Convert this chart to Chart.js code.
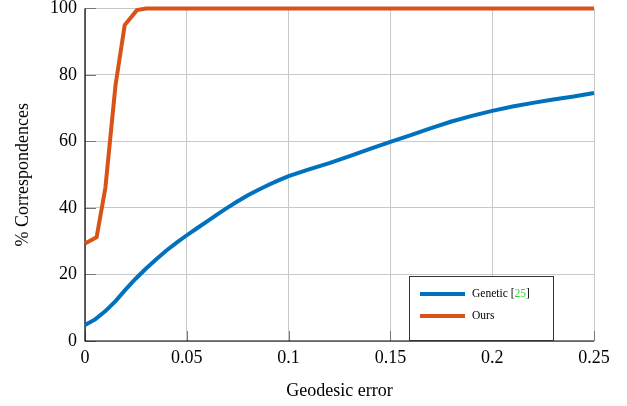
<!DOCTYPE html>
<html><head><meta charset="utf-8">
<script src="https://cdn.jsdelivr.net/npm/chart.js@4/dist/chart.umd.min.js"></script>
<style>html,body{margin:0;padding:0;background:#fff}#w{width:627px;height:406px}</style>
</head><body><div id="w"><canvas id="c"></canvas></div>
<script>
const geneticX = [0,0.005,0.01,0.015,0.02,0.025,0.03,0.035,0.04,0.045,0.05,0.055,0.06,0.065,0.07,0.075,0.08,0.085,0.09,0.095,0.1,0.11,0.12,0.13,0.14,0.15,0.16,0.17,0.18,0.19,0.2,0.21,0.22,0.23,0.24,0.25];
const geneticY = [4.8,6.5,9,12,15.5,18.8,21.8,24.6,27.2,29.6,31.8,33.9,36,38.1,40.1,42,43.8,45.4,46.9,48.3,49.6,51.6,53.5,55.6,57.8,59.9,61.9,64,66,67.7,69.2,70.5,71.6,72.6,73.5,74.6];
const oursX = [0,0.0057,0.01,0.015,0.0195,0.0255,0.03,0.25];
const oursY = [29.3,31.2,46,77,95,99.5,100,100];
const xTicks = [0,0.05,0.1,0.15,0.2,0.25];
const yTicks = [0,20,40,60,80,100];
const seriesNames = ['Genetic', 'Ours'];
const cite = '25';

const blue = '#0072BD', orange = '#D95319';
const serif = '"Liberation Serif", "DejaVu Serif", serif';

const legendPlugin = {
  id: 'boxLegend',
  afterDatasetsDraw(chart) {
    const ctx = chart.ctx, a = chart.chartArea;
    const x0 = a.right - 185, y0 = a.bottom - 65, w = 144, h = 64;
    ctx.save();
    ctx.fillStyle = '#fff';
    ctx.fillRect(x0, y0, w, h);
    ctx.strokeStyle = '#333'; ctx.lineWidth = 1;
    ctx.strokeRect(x0 + 0.5, y0 + 0.5, w, h);
    ctx.font = '11.5px ' + serif;
    ctx.textBaseline = 'middle';
    chart.data.datasets.forEach((ds, i) => {
      const y = y0 + 18 + i * 22;
      ctx.strokeStyle = ds.borderColor; ctx.lineWidth = 4;
      ctx.beginPath(); ctx.moveTo(x0 + 11, y); ctx.lineTo(x0 + 56, y); ctx.stroke();
      ctx.fillStyle = '#000';
      let tx = x0 + 63;
      if (i === 0) {
        const t1 = seriesNames[0] + ' [';
        ctx.fillText(t1, tx, y); tx += ctx.measureText(t1).width;
        ctx.fillStyle = '#22DD22'; ctx.fillText(cite, tx, y); tx += ctx.measureText(cite).width;
        ctx.fillStyle = '#000'; ctx.fillText(']', tx, y);
      } else {
        ctx.fillText(seriesNames[i], tx, y);
      }
    });
    ctx.restore();
  }
};

const axisPlugin = {
  id: 'axisLines',
  beforeDatasetsDraw(chart) {
    const ctx = chart.ctx, a = chart.chartArea;
    const xs = chart.scales.x, ys = chart.scales.y;
    ctx.save();
    ctx.strokeStyle = '#777'; ctx.lineWidth = 1;
    xTicks.forEach(v => { const p = Math.round(xs.getPixelForValue(v)) + 0.5;
      ctx.beginPath(); ctx.moveTo(p, a.bottom); ctx.lineTo(p, a.bottom - 10); ctx.stroke(); });
    yTicks.forEach(v => { const p = Math.round(ys.getPixelForValue(v)) + 0.5;
      ctx.beginPath(); ctx.moveTo(a.left, p); ctx.lineTo(a.left + 11, p); ctx.stroke(); });
    ctx.strokeStyle = '#000'; ctx.lineWidth = 1.2;
    ctx.beginPath(); ctx.moveTo(a.left, a.top); ctx.lineTo(a.left, a.bottom); ctx.lineTo(a.right, a.bottom); ctx.stroke();
    ctx.restore();
  }
};

new Chart(document.getElementById('c'), {
  type: 'line',
  data: {
    datasets: [
      { label: 'Genetic [25]', data: geneticX.map((x, i) => ({x, y: geneticY[i]})), borderColor: blue, backgroundColor: blue, borderWidth: 4, pointRadius: 0, tension: 0, clip: false, order: 1 },
      { label: 'Ours', data: oursX.map((x, i) => ({x, y: oursY[i]})), borderColor: orange, backgroundColor: orange, borderWidth: 4, pointRadius: 0, tension: 0, clip: false, order: 0 }
    ]
  },
  options: {
    responsive: true, maintainAspectRatio: false, animation: false,
    layout: { padding: { left: 0, top: 2, right: 33, bottom: 0 } },
    plugins: { legend: { display: false }, tooltip: { enabled: false } },
    scales: {
      x: {
        type: 'linear', min: 0, max: 0.25,
        afterBuildTicks(s) { s.ticks = xTicks.map(v => ({value: v})); },
        afterFit(s) { s.height = 65; },
        border: { display: false },
        grid: { color: '#c8c8c8', lineWidth: 1, drawTicks: false },
        ticks: { color: '#000', font: { family: serif, size: 18 }, padding: 6, maxRotation: 0,
          callback: v => String(v) },
        title: { display: true, text: 'Geodesic error', color: '#000', font: { family: serif, size: 18 }, padding: { top: 10 } }
      },
      y: {
        min: 0, max: 100,
        afterBuildTicks(s) { s.ticks = yTicks.map(v => ({value: v})); },
        afterFit(s) { s.width = 85; },
        border: { display: false },
        grid: { color: '#c8c8c8', lineWidth: 1, drawTicks: false },
        ticks: { color: '#000', font: { family: serif, size: 18, lineHeight: 0.05 }, padding: 8 },
        title: { display: true, text: '% Correspondences', color: '#000', font: { family: serif, size: 18 }, padding: { top: 12, bottom: 0 } }
      }
    }
  },
  plugins: [axisPlugin, legendPlugin]
});
</script>
</body></html>
